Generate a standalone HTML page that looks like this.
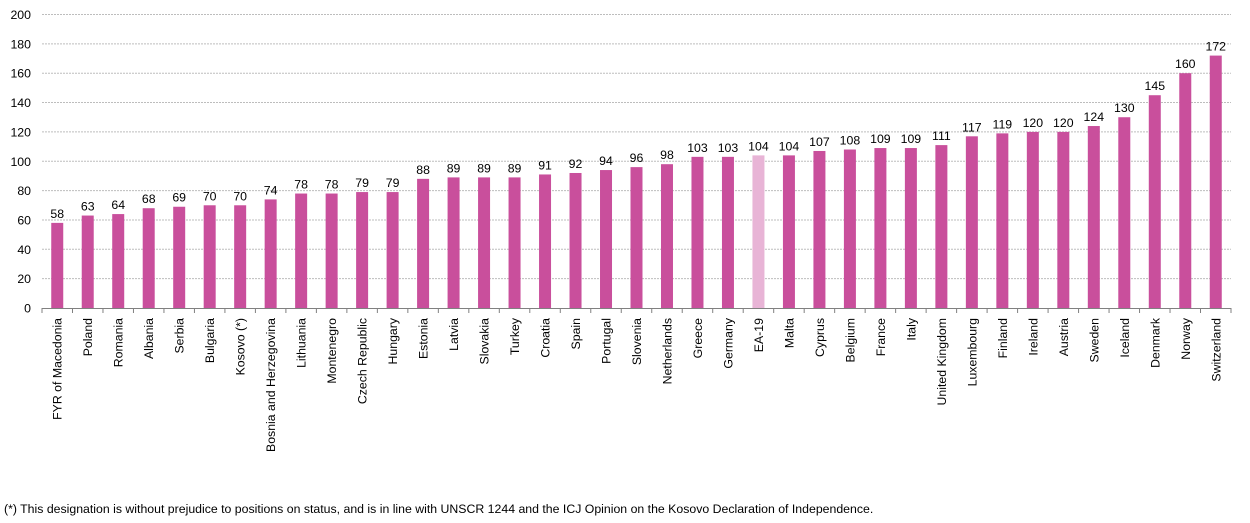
<!DOCTYPE html>
<html><head><meta charset="utf-8"><style>
body{margin:0;background:#fff;width:1250px;height:518px;overflow:hidden;font-family:"Liberation Sans",Arial,sans-serif}
text{font-family:"Liberation Sans",Arial,sans-serif;fill:#000}
</style></head><body>
<svg id="chart" width="1250" height="518" xmlns="http://www.w3.org/2000/svg">
<g id="grid"></g>
<g id="yaxis"></g>
<g id="bars"></g>
<g id="xaxis"></g>
<text x="4" y="513" font-size="12.3">(*) This designation is without prejudice to positions on status, and is in line with UNSCR 1244 and the ICJ Opinion on the Kosovo Declaration of Independence.</text>
</svg>
<script>
const categories=["FYR of Macedonia","Poland","Romania","Albania","Serbia","Bulgaria","Kosovo (*)","Bosnia and Herzegovina","Lithuania","Montenegro","Czech Republic","Hungary","Estonia","Latvia","Slovakia","Turkey","Croatia","Spain","Portugal","Slovenia","Netherlands","Greece","Germany","EA-19","Malta","Cyprus","Belgium","France","Italy","United Kingdom","Luxembourg","Finland","Ireland","Austria","Sweden","Iceland","Denmark","Norway","Switzerland"];
const values=[58,63,64,68,69,70,70,74,78,78,79,79,88,89,89,89,91,92,94,96,98,103,103,104,104,107,108,109,109,111,117,119,120,120,124,130,145,160,172];
const yTicks=[0,20,40,60,80,100,120,140,160,180,200];
const highlight="EA-19";
const NS="http://www.w3.org/2000/svg";
const x0=42,x1=1231,y0=308,yTop=14.5,yMax=200;
const band=(x1-x0)/categories.length;
const xC=i=>x0+band*(i+0.5);
const yS=v=>y0-(v/yMax)*(y0-yTop);
function mk(tag,attrs,parent){const e=document.createElementNS(NS,tag);for(const k in attrs)e.setAttribute(k,attrs[k]);parent.appendChild(e);return e;}
const grid=document.getElementById('grid'),ya=document.getElementById('yaxis'),bars=document.getElementById('bars'),xa=document.getElementById('xaxis');
yTicks.forEach(t=>{
 if(t>0){const l=mk('line',{x1:x0,x2:x1,y1:yS(t),y2:yS(t),stroke:'#bdbdbd','stroke-dasharray':'2,1','stroke-width':1},grid);
 
 }
 const tx=mk('text',{x:31,y:yS(t)+4.5,'font-size':12.3,'text-anchor':'end'},ya);tx.textContent=t;
 
 
});
values.forEach((v,i)=>{
 const c=categories[i];
 const r=mk('rect',{x:xC(i)-6,y:yS(v),width:12,height:y0-yS(v),fill:c===highlight?'#e8b4d6':'#c94f9c'},bars);
 
 
 const t=mk('text',{x:xC(i),y:yS(v)-5,'font-size':12.3,'text-anchor':'middle'},bars);t.textContent=v;
 
 
 const lb=mk('text',{x:0,y:0,'font-size':12.3,'text-anchor':'end',transform:`translate(${xC(i)+4.5},318) rotate(-90)`},xa);lb.textContent=c;
 
 
});
mk('line',{x1:x0,x2:x1,y1:y0+0.5,y2:y0+0.5,stroke:'#808080'},xa);
for(let i=0;i<=categories.length;i++){mk('line',{x1:x0+band*i,x2:x0+band*i,y1:y0,y2:y0+5,stroke:'#808080'},xa);}
</script>
</body></html>
